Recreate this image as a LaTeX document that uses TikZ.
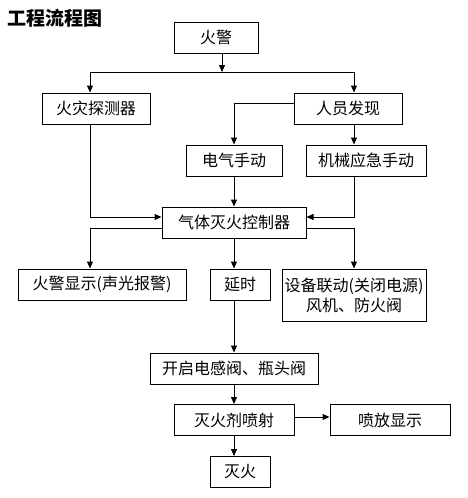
\documentclass[tikz,border=0pt]{standalone}
\usepackage{fontspec}
\setmainfont{Noto Sans CJK SC}
\usetikzlibrary{arrows.meta}
\begin{document}
\begin{tikzpicture}[x=1pt,y=-1pt,
  box/.style={draw, line width=1pt, inner sep=0pt, minimum height=31pt, font=\fontsize{16}{20}\selectfont, align=center},
  arr/.style={line width=1pt, -{Triangle[length=7pt,width=6pt]}},
  ln/.style={line width=1pt}]
\useasboundingbox (0,0) rectangle (467,498);
\node[anchor=west, font=\fontsize{19}{22}\selectfont\bfseries] (title) at (4,18.5) {工程流程图};
\node[box, minimum width=84pt] (huojing) at (216,37.5) {火警};
\node[box, minimum width=108pt] (tance) at (96,108.5) {火灾探测器};
\node[box, minimum width=108pt] (renyuan) at (348,108.5) {人员发现};
\node[box, minimum width=96pt] (dianqi) at (234,160.5) {电气手动};
\node[box, minimum width=120pt] (jixie) at (366,160.5) {机械应急手动};
\node[box, minimum width=144pt] (kongzhi) at (234,222.5) {气体灭火控制器};
\node[box, minimum width=168pt] (xianshi) at (102,284.5) {火警显示(声光报警)};
\node[box, minimum width=60pt] (yanshi) at (240,284.5) {延时};
\node[box, minimum width=144pt, minimum height=52pt] (liandong) at (354,295) {设备联动(关闭电源)\\风机、防火阀};
\node[box, minimum width=168pt] (kaiqi) at (234,368.5) {开启电感阀、瓶头阀};
\node[box, minimum width=120pt] (penshe) at (234,420) {灭火剂喷射};
\node[box, minimum width=120pt] (penfang) at (390,420) {喷放显示};
\node[box, minimum width=60pt] (miehuo) at (240,472) {灭火};
\coordinate (jm) at (222,72);
\coordinate (jl) at (90,72);
\coordinate (jr) at (354,72);
\draw[arr] (jm |- huojing.south) -- (jm);
\draw[ln] (jl) -- (jr);
\draw[arr] (jl) -- (jl |- tance.north);
\draw[arr] (jr) -- (jr |- renyuan.north);
\draw[arr] ([yshift=5pt]renyuan.west) -| (dianqi.north);
\draw[arr] (jr |- renyuan.south) -- (jr |- jixie.north);
\draw[arr] (dianqi.south) -- (kongzhi.north);
\draw[arr] (jl |- tance.south) |- ([yshift=5.5pt]kongzhi.west);
\draw[arr] (jr |- jixie.south) |- ([yshift=5.5pt]kongzhi.east);
\draw[arr] ([yshift=-5.5pt]kongzhi.west) -| (jl |- xianshi.north);
\draw[arr] ([yshift=-5.5pt]kongzhi.east) -| (liandong.north);
\draw[arr] (kongzhi.south) -- (kongzhi.south |- yanshi.north);
\draw[arr] (kongzhi.south |- yanshi.south) -- (kaiqi.north);
\draw[arr] (kaiqi.south) -- (penshe.north);
\draw[arr] ([yshift=3pt]penshe.east) -- ([yshift=3pt]penfang.west);
\draw[arr] (penshe.south) -- (penshe.south |- miehuo.north);
\end{tikzpicture}
\end{document}
